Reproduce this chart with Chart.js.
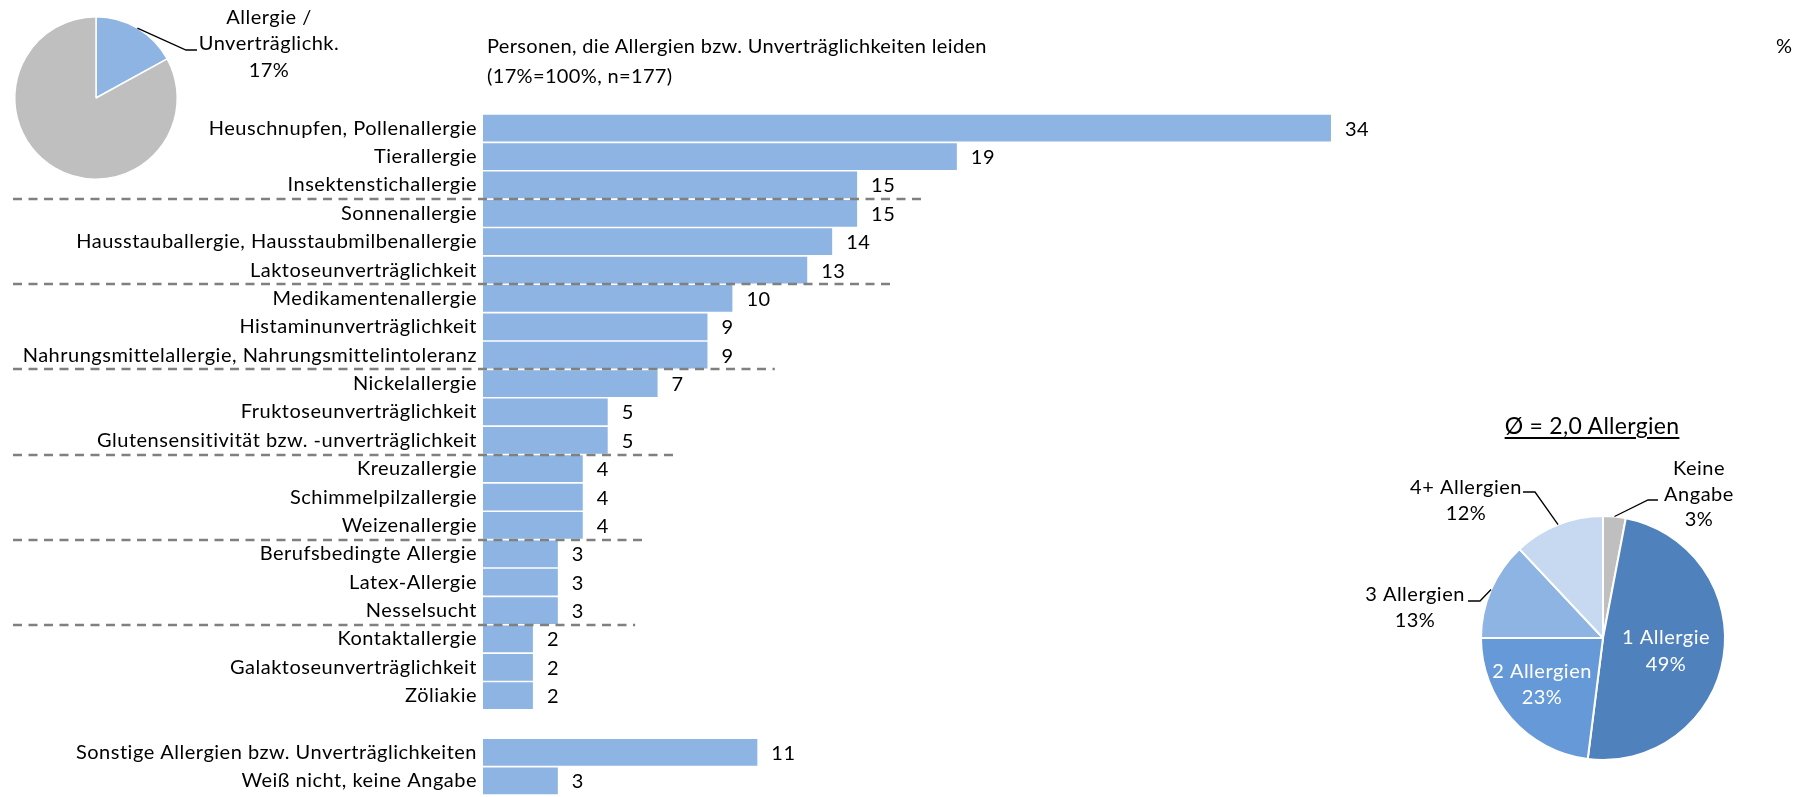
<!DOCTYPE html>
<html>
<head>
<meta charset="utf-8">
<script src="https://cdn.jsdelivr.net/npm/chart.js@4.4.1/dist/chart.umd.min.js"></script>
<style>
  body { margin: 0; width: 1807px; height: 797px; background: #fff; position: relative; overflow: hidden; font-family: Lato, sans-serif; color: #000; }
  .abs { position: absolute; }
  #title { left: 487px; top: 30px; font-size: 20px; line-height: 30px; letter-spacing: 0.35px; white-space: nowrap; }
  #unit { left: 1776px; top: 30px; font-size: 20px; line-height: 30px; }
  #avg { left: 1472px; top: 410px; width: 240px; text-align: center; font-size: 23px; line-height: 30px; letter-spacing: 0.3px; text-decoration: underline; text-underline-offset: 3px; }
</style>
</head>
<body>
<div class="abs" style="left:0;top:0;"><canvas id="barChart" width="1807" height="797"></canvas></div>
<div class="abs" style="left:0;top:0;"><canvas id="sharePie" width="360" height="200"></canvas></div>
<div class="abs" style="left:1340px;top:440px;"><canvas id="countPie" width="467" height="357"></canvas></div>
<div id="title" class="abs">Personen, die Allergien bzw. Unverträglichkeiten leiden<br>(17%=100%, n=177)</div>
<div id="unit" class="abs">%</div>
<div id="avg" class="abs">Ø = 2,0 Allergien</div>
<script>
// data
const categories = [
  "Heuschnupfen, Pollenallergie", "Tierallergie", "Insektenstichallergie",
  "Sonnenallergie", "Hausstauballergie, Hausstaubmilbenallergie", "Laktoseunverträglichkeit",
  "Medikamentenallergie", "Histaminunverträglichkeit", "Nahrungsmittelallergie, Nahrungsmittelintoleranz",
  "Nickelallergie", "Fruktoseunverträglichkeit", "Glutensensitivität bzw. -unverträglichkeit",
  "Kreuzallergie", "Schimmelpilzallergie", "Weizenallergie",
  "Berufsbedingte Allergie", "Latex-Allergie", "Nesselsucht",
  "Kontaktallergie", "Galaktoseunverträglichkeit", "Zöliakie",
  "",
  "Sonstige Allergien bzw. Unverträglichkeiten", "Weiß nicht, keine Angabe"
];
const shares = [34, 19, 15, 15, 14, 13, 10, 9, 9, 7, 5, 5, 4, 4, 4, 3, 3, 3, 2, 2, 2, null, 11, 3];

const allergyLabels = ["Allergie / Unverträglichk.", "keine"];
const allergyValues = [17, 83];

const countLabels = ["Keine Angabe", "1 Allergie", "2 Allergien", "3 Allergien", "4+ Allergien"];
const countValues = [3, 49, 23, 13, 12];

Chart.defaults.font.family = "Lato, sans-serif";
Chart.defaults.color = "#000";

const FONT = "20px Lato, sans-serif";
const SPACING = "0.5px";

// dashed group separators: row where a new group starts, right end in value units
const sepRows = [3, 6, 9, 12, 15, 18];
const sepEnds = [17.8, 16.4, 11.7, 7.7, 6.5, 6.1];

const spacing = {
  id: "spacing",
  beforeDraw(chart) { chart.ctx.letterSpacing = SPACING; }
};

const barExtras = {
  id: "barExtras",
  afterDatasetsDraw(chart) {
    const ctx = chart.ctx;
    const xs = chart.scales.x, ys = chart.scales.y;
    ctx.save();
    // value labels
    ctx.font = FONT;
    ctx.fillStyle = "#000";
    ctx.textBaseline = "middle";
    ctx.textAlign = "left";
    chart.getDatasetMeta(0).data.forEach((bar, i) => {
      if (shares[i] == null) return;
      ctx.fillText(String(shares[i]), bar.x + 14, bar.y + 1);
    });
    // separators
    ctx.strokeStyle = "#808080";
    ctx.lineWidth = 2.5;
    ctx.setLineDash([9, 6.5]);
    sepRows.forEach((r, k) => {
      const y = Math.round((ys.getPixelForValue(r - 1) + ys.getPixelForValue(r)) / 2);
      ctx.beginPath();
      ctx.moveTo(13, y);
      ctx.lineTo(xs.getPixelForValue(sepEnds[k]), y);
      ctx.stroke();
    });
    ctx.restore();
  }
};

new Chart(document.getElementById("barChart"), {
  type: "bar",
  data: {
    labels: categories,
    datasets: [{
      data: shares,
      backgroundColor: "#8db4e2",
      barPercentage: 0.94,
      categoryPercentage: 1
    }]
  },
  options: {
    indexAxis: "y",
    responsive: false,
    animation: false,
    layout: { padding: { top: 114, bottom: 2, right: 77, left: 0 } },
    plugins: { legend: { display: false }, tooltip: { enabled: false } },
    scales: {
      x: { display: false, min: 0, max: 50 },
      y: {
        grid: { display: false, drawTicks: false },
        border: { display: false },
        ticks: { autoSkip: false, padding: 6, font: { size: 20 } },
        afterFit(scale) {
          scale.width = 483;
          scale.paddingTop = 0;
          scale.paddingBottom = 0;
        }
      }
    }
  },
  plugins: [spacing, barExtras]
});

// small pie top left
const shareLabel = {
  id: "shareLabel",
  afterDatasetsDraw(chart) {
    const ctx = chart.ctx;
    const arc = chart.getDatasetMeta(0).data[0];
    const mid = (arc.startAngle + arc.endAngle) / 2;
    const ex = arc.x + arc.outerRadius * Math.cos(mid);
    const ey = arc.y + arc.outerRadius * Math.sin(mid);
    ctx.save();
    ctx.strokeStyle = "#000";
    ctx.lineWidth = 1.3;
    ctx.beginPath();
    ctx.moveTo(ex, ey);
    ctx.lineTo(186, 50);
    ctx.lineTo(197, 50);
    ctx.stroke();
    ctx.font = FONT;
    ctx.fillStyle = "#000";
    ctx.textAlign = "center";
    ctx.textBaseline = "middle";
    ctx.fillText("Allergie /", 269, 18);
    ctx.fillText("Unverträglichk.", 269, 44);
    ctx.fillText(allergyValues[0] + "%", 269, 71);
    ctx.restore();
  }
};

new Chart(document.getElementById("sharePie"), {
  type: "pie",
  data: {
    labels: allergyLabels,
    datasets: [{
      data: allergyValues,
      backgroundColor: ["#8db4e2", "#bfbfbf"],
      borderColor: "#fff",
      borderWidth: 1.5
    }]
  },
  options: {
    responsive: false,
    animation: false,
    layout: { padding: { left: 14, top: 16, right: 182, bottom: 20 } },
    plugins: { legend: { display: false }, tooltip: { enabled: false } }
  },
  plugins: [spacing, shareLabel]
});

// right pie: label placement relative to the pie centre
const countLabelPos = [
  { lines: ["Keine", "Angabe"], x: 96, y: [-169, -143, -118], color: "#000", leader: [[55, -138], [45, -138]] },
  { lines: ["1 Allergie"], x: 63, y: [0, 27], color: "#fff" },
  { lines: ["2 Allergien"], x: -61, y: [34, 60], color: "#fff" },
  { lines: ["3 Allergien"], x: -188, y: [-43, -17], color: "#000", leader: [[-135, -37], [-123, -37]] },
  { lines: ["4+ Allergien"], x: -137, y: [-150, -124], color: "#000", leader: [[-80, -146], [-68, -146]] }
];

const countLabelsPlugin = {
  id: "countLabels",
  afterDatasetsDraw(chart) {
    const ctx = chart.ctx;
    ctx.save();
    ctx.font = FONT;
    ctx.textAlign = "center";
    ctx.textBaseline = "middle";
    chart.getDatasetMeta(0).data.forEach((arc, i) => {
      const p = countLabelPos[i];
      const cx = arc.x, cy = arc.y;
      if (p.leader) {
        const mid = (arc.startAngle + arc.endAngle) / 2;
        ctx.strokeStyle = "#000";
        ctx.lineWidth = 1.3;
        ctx.beginPath();
        ctx.moveTo(cx + p.leader[0][0], cy + p.leader[0][1]);
        ctx.lineTo(cx + p.leader[1][0], cy + p.leader[1][1]);
        ctx.lineTo(cx + arc.outerRadius * Math.cos(mid), cy + arc.outerRadius * Math.sin(mid));
        ctx.stroke();
      }
      ctx.fillStyle = p.color;
      const texts = p.lines.concat([countValues[i] + "%"]);
      texts.forEach((t, k) => ctx.fillText(t, cx + p.x, cy + p.y[k]));
    });
    ctx.restore();
  }
};

new Chart(document.getElementById("countPie"), {
  type: "pie",
  data: {
    labels: countLabels,
    datasets: [{
      data: countValues,
      backgroundColor: ["#bfbfbf", "#4f81bd", "#6699d8", "#8db4e2", "#c6d9f1"],
      borderColor: "#fff",
      borderWidth: 2
    }]
  },
  options: {
    responsive: false,
    animation: false,
    layout: { padding: { left: 140, top: 75, right: 81, bottom: 36 } },
    plugins: { legend: { display: false }, tooltip: { enabled: false } }
  },
  plugins: [spacing, countLabelsPlugin]
});
</script>
</body>
</html>
